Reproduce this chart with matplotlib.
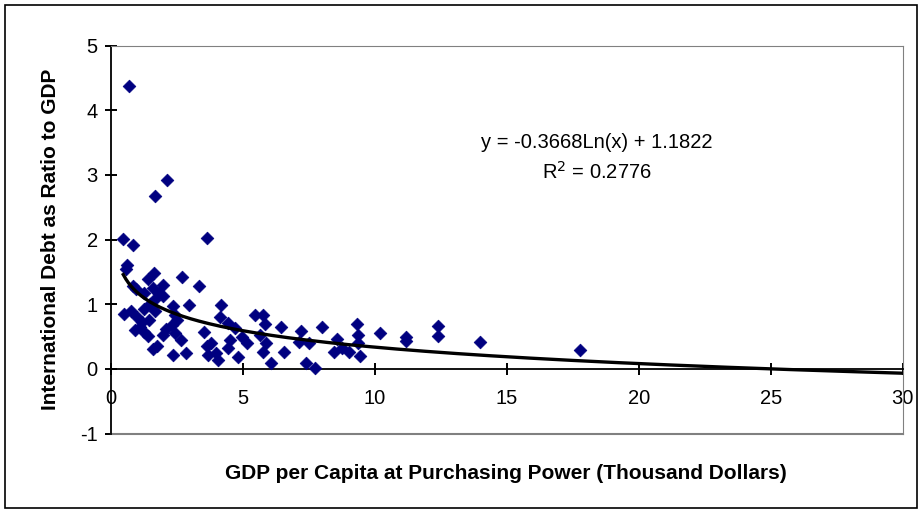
import numpy as np
import matplotlib
matplotlib.use('Agg')
from matplotlib import pyplot as plt
from matplotlib.patches import Rectangle

# GDP per capita (thousand dollars) and international debt / GDP
gdp = [0.67, 2.14, 1.67, 3.64, 0.47, 0.85, 0.62, 0.58, 2.68, 1.63,
       3.35, 1.41, 1.99, 0.85, 0.96, 1.27, 1.58, 1.81, 1.99, 1.63,
       0.51, 0.78, 1.27, 1.67, 2.34, 2.97, 1.00, 1.18, 1.45, 1.09,
       1.27, 1.41, 1.99, 1.58, 2.43, 2.52, 2.30, 2.43, 2.65, 2.34,
       2.83, 3.52, 3.64, 3.68, 3.81, 3.97, 4.04, 4.19, 4.13, 4.42,
       4.71, 4.53, 4.44, 4.80, 4.97, 5.15, 5.47, 5.78, 5.82, 5.64,
       5.87, 5.78, 6.05, 6.43, 6.55, 7.21, 7.12, 7.49, 7.38, 7.72,
       8.01, 8.58, 8.45, 8.77, 9.02, 9.34, 9.37, 9.37, 9.44, 10.18,
       11.17, 11.17, 12.38, 12.38, 13.98, 17.78, 1.50, 2.10, 0.90, 1.75]
debt = [4.38, 2.92, 2.68, 2.03, 2.01, 1.91, 1.61, 1.55, 1.42, 1.49,
        1.29, 1.39, 1.30, 1.28, 1.23, 1.17, 1.25, 1.17, 1.13, 1.07,
        0.85, 0.89, 0.92, 0.89, 0.98, 0.99, 0.80, 0.73, 0.76, 0.65,
        0.57, 0.51, 0.53, 0.31, 0.83, 0.76, 0.68, 0.56, 0.45, 0.21,
        0.25, 0.57, 0.35, 0.22, 0.40, 0.25, 0.14, 0.99, 0.81, 0.71,
        0.63, 0.45, 0.32, 0.19, 0.50, 0.40, 0.83, 0.83, 0.70, 0.53,
        0.40, 0.26, 0.09, 0.65, 0.27, 0.58, 0.42, 0.40, 0.10, 0.02,
        0.65, 0.47, 0.27, 0.32, 0.27, 0.70, 0.53, 0.40, 0.20, 0.55,
        0.50, 0.43, 0.66, 0.51, 0.42, 0.29, 1.00, 0.62, 0.60, 0.36]

# logarithmic trendline shown on the chart
slope = -0.3668
intercept = 1.1822
r_squared = 0.2776

plt.rcParams['font.family'] = ['Liberation Sans', 'DejaVu Sans']
plt.rcParams['axes.unicode_minus'] = False

fig = plt.figure(figsize=(9.24, 5.12), dpi=100)
fig.patches.append(Rectangle((5 / 924, 4 / 512), 912 / 924, 503 / 512,
                             transform=fig.transFigure, fill=False,
                             edgecolor='black', linewidth=1.2))

ax = fig.add_axes([0.120, 0.153, 0.857, 0.758])
ax.set_xlim(0, 30)
ax.set_ylim(-1, 5)

ax.scatter(gdp, debt, marker='D', s=42, color='#000080', edgecolors='#000080',
           linewidths=0.5, zorder=3)

xs = np.linspace(min(gdp), 30, 300)
ax.plot(xs, slope * np.log(xs) + intercept, color='black', linewidth=2.4, zorder=4)

# spines: black axes through zero, gray plot-area border
for side in ['top', 'right']:
    ax.spines[side].set_color('#808080')
ax.spines['left'].set_color('black')
ax.spines['left'].set_linewidth(1.3)
ax.spines['bottom'].set_position(('data', 0))
ax.spines['bottom'].set_color('black')
ax.spines['bottom'].set_linewidth(1.3)
ax.plot([0, 30], [-1, -1], color='#808080', linewidth=1.5, clip_on=False, zorder=2)

ax.set_xticks([0, 5, 10, 15, 20, 25, 30])
ax.set_yticks([-1, 0, 1, 2, 3, 4, 5])
ax.tick_params(direction='inout', length=9, width=1.4, labelsize=14.5)
ax.tick_params(axis='x', pad=10)
ax.tick_params(axis='y', pad=5)

ax.text(18.4, 3.5, 'y = -0.3668Ln(x) + 1.1822', ha='center', va='center', fontsize=14.5)
ax.text(18.4, 3.05, 'R$^2$ = ' + str(r_squared), ha='center', va='center', fontsize=14.5)

ax.set_ylabel('International Debt as Ratio to GDP', fontsize=15, fontweight='bold', labelpad=14)
fig.text(0.548, 0.076, 'GDP per Capita at Purchasing Power (Thousand Dollars)',
         ha='center', va='center', fontsize=15, fontweight='bold')

fig.savefig('out.png', dpi=100)
